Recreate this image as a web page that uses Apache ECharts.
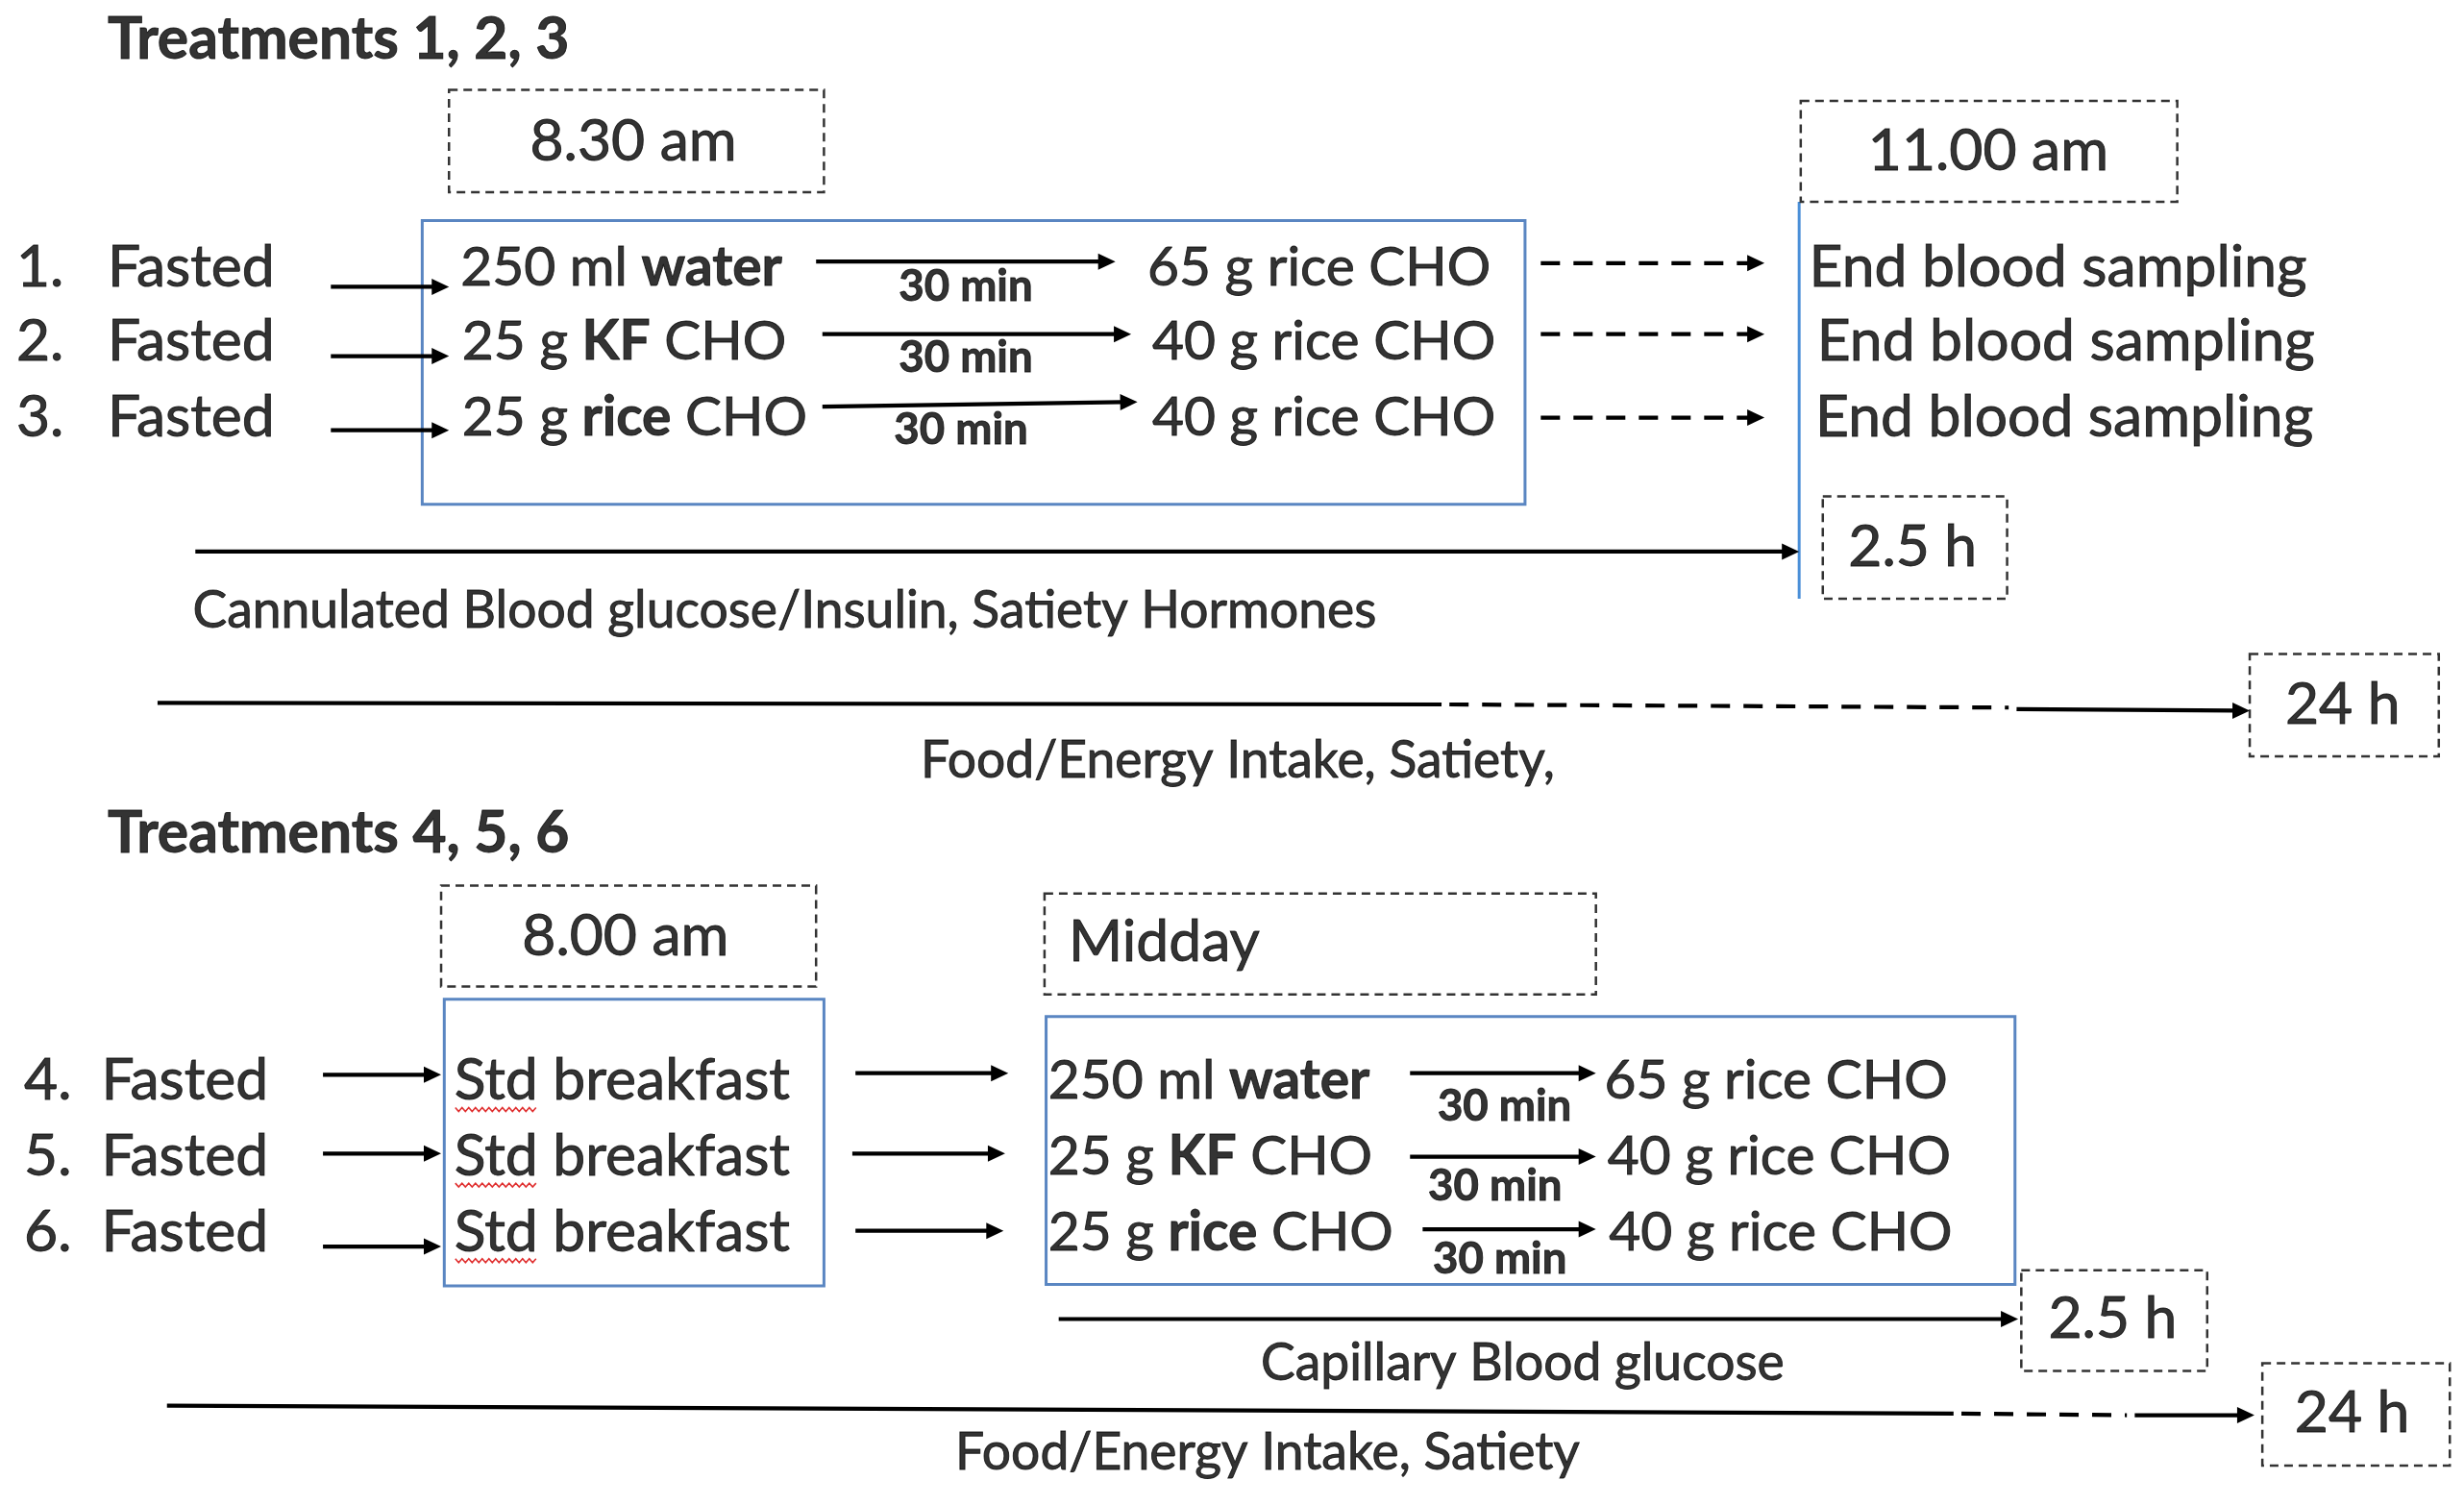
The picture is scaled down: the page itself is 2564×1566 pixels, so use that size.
<!DOCTYPE html>
<html><head><meta charset="utf-8">
<script src="https://cdn.jsdelivr.net/npm/echarts@6/dist/echarts.min.js"></script>
<style>html,body{margin:0;padding:0;background:#fff;}#c{width:2564px;height:1566px;}</style>
</head><body><div id="c"></div>
<script>
// ---- Diagram content (coordinates in reference layout units, 1564 x 955) ----
const headings = [[68, 25, 'Treatments 1, 2, 3'], [68, 529, 'Treatments 4, 5, 6']];
const treatmentNumbers = [[10,170,'1.'],[10,217,'2.'],[10,265,'3.'],[15,686,'4.'],[15,734,'5.'],[15,782,'6.']];
const startStates = [[68,170,'Fasted'],[68,217,'Fasted'],[68,265,'Fasted'],[64,686,'Fasted'],[64,734,'Fasted'],[64,782,'Fasted']];
const breakfasts = [[288,686,'Std breakfast'],[288,734,'Std breakfast'],[288,782,'Std breakfast']];
const preloads = [[292,170,'250 ml {b|water}'],[293,217,'25 g {b|KF} CHO'],[293,265,'25 g {b|rice} CHO'],
                  [665,686,'250 ml {b|water}'],[665,734,'25 g {b|KF} CHO'],[665,782,'25 g {b|rice} CHO']];
const meals = [[728,170,'65 g rice CHO'],[731,217,'40 g rice CHO'],[731,265,'40 g rice CHO'],
               [1018,686,'65 g rice CHO'],[1020,734,'40 g rice CHO'],[1021,782,'40 g rice CHO']];
const endpoints = [[1148,170,'End blood sampling'],[1153,217,'End blood sampling'],[1152,265,'End blood sampling'],[678,598,'Midday']];
const timeLabels = [[402,90,'8.30 am'],[1262,96,'11.00 am'],[1214,347,'2.5 h'],[1487,447,'24 h'],
                    [397,594,'8.00 am'],[1341,837,'2.5 h'],[1493,897,'24 h']];
const intervalLabels = [[613,182,'30 min'],[613,227,'30 min'],[610,273,'30 min'],[955,702,'30 min'],[949,753,'30 min'],[952,799,'30 min']];
const measureLabels = [[122,388,'Cannulated Blood glucose/Insulin, Satiety Hormones'],[584,483,'Food/Energy Intake, Satiety,'],
                       [800,865,'Capillary Blood glucose'],[606,922,'Food/Energy Intake, Satiety']];

const solidArrows = [[210,182,285,182],[210,226,285,226],[210,273,285,273],
  [518,166,708,166],[522,212,718,212],[522,258,722,255],
  [124,350,1142,350],[1280,450,1428,451],
  [205,682,280,682],[205,732,280,732],[205,791,280,791],
  [543,681,640,681],[541,732,638,732],[543,781,637,781],
  [895,681,1013,681],[895,734,1013,734],[903,780,1013,780],
  [672,837,1281,837],[1355,898,1431,898]];
const dashedArrows = [[978,167,1120,167],[978,212,1120,212],[978,265,1120,265]];
const solidLines = [[100,446,915,447],[106,892,1240,897]];
const dashedLines = [[920,447,1275,449],[1245,897,1350,898]];
const timeBoxes = [[285,57,523,122],[1143,64,1382,128],[1157,315,1274,380],[1428,415,1548,480],
                   [280,562,518,626],[663,567,1013,631],[1283,806,1401,870],[1436,865,1555,930]];
const phaseBoxes = [[268,140,968,320],[282,634,523,816],[664,645,1279,815]];
const phaseRules = [[1142,128,1142,380]];
const spellMarks = [[289,341,704],[289,341,752],[289,341,800]];

// ---- Rendering ----
const FONT = "Lato, 'Open Sans', sans-serif";
const K = 2564 / 1564;
const mctx = document.createElement('canvas').getContext('2d');
function fit(text, targetW, weight) {
  mctx.font = (weight || 'normal') + ' 100px ' + FONT;
  return Math.round(100 * targetW * K / mctx.measureText(text).width * 10) / 10;
}
const MAIN = fit('End blood sampling', 316);
const DOSE = fit('65 g rice CHO', 218);
const HEAD = fit('Treatments 1, 2, 3', 293, 'bold');
const CAP = fit('Cannulated Blood glucose/Insulin, Satiety Hormones', 752);
const SMALL = fit('30 min', 85, 'bold');

function segItem(color, width, dash, arrow) {
  return function (params, api) {
    const a = api.coord([api.value(0), api.value(1)]);
    const b = api.coord([api.value(2), api.value(3)]);
    const dx = b[0]-a[0], dy = b[1]-a[1];
    const len = Math.hypot(dx, dy) || 1;
    const ux = dx/len, uy = dy/len;
    const children = [];
    if (arrow) {
      const hl = 18, hw = 8.5;
      const base = [b[0]-ux*hl, b[1]-uy*hl];
      children.push({type:'line', shape:{x1:a[0], y1:a[1], x2:base[0]+ux*2, y2:base[1]+uy*2},
        style:{stroke:color, lineWidth:width, lineDash:dash}});
      children.push({type:'polygon', shape:{points:[b,[base[0]-uy*hw, base[1]+ux*hw],[base[0]+uy*hw, base[1]-ux*hw]]},
        style:{fill:color}});
    } else {
      children.push({type:'line', shape:{x1:a[0], y1:a[1], x2:b[0], y2:b[1]},
        style:{stroke:color, lineWidth:width, lineDash:dash}});
    }
    return {type:'group', children};
  };
}
function rectItem(color, width, dash) {
  return function (params, api) {
    const a = api.coord([api.value(0), api.value(1)]);
    const b = api.coord([api.value(2), api.value(3)]);
    return {type:'rect', shape:{x:Math.min(a[0],b[0]), y:Math.min(a[1],b[1]), width:Math.abs(b[0]-a[0]), height:Math.abs(b[1]-a[1])},
      style:{fill:'none', stroke:color, lineWidth:width, lineDash:dash}};
  };
}
function wavyItem(params, api) {
  const a = api.coord([api.value(0), api.value(2)]);
  const b = api.coord([api.value(1), api.value(2)]);
  const pts = [];
  let up = true;
  for (let x = a[0]; x <= b[0]; x += 3.5) { pts.push([x, a[1] + (up ? -2 : 2)]); up = !up; }
  return {type:'polyline', shape:{points:pts}, style:{stroke:'#E03030', lineWidth:1.6, fill:null}};
}
function custom(data, fn, enc) {
  return {type:'custom', data, renderItem: fn, encode: enc || {x:[0,2], y:[1,3]}, silent:true, z:2};
}
function texts(data, opts) {
  const ink = {color:'#000', textBorderColor:'#000', textBorderWidth:0.9};
  return {
    type:'scatter', data, symbolSize:1, itemStyle:{color:'rgba(0,0,0,0)'}, silent:true, z:5,
    encode:{x:0, y:1},
    label:Object.assign({show:true, formatter:p => p.value[2], fontFamily:FONT,
      rich:{b:Object.assign({fontWeight:'bold', fontFamily:FONT, fontSize:opts.fontSize}, ink)}}, ink, opts)
  };
}

const chart = echarts.init(document.getElementById('c'), null, {renderer:'canvas'});
chart.setOption({
  backgroundColor:'#ffffff',
  animation:false,
  grid:{left:0, right:0, top:0, bottom:0},
  xAxis:{type:'value', min:0, max:1564, show:false},
  yAxis:{type:'value', min:0, max:955, inverse:true, show:false},
  series:[
    custom(phaseBoxes, rectItem('#5A86C2', 3, null)),
    custom(phaseRules, segItem('#4A8FD8', 3, null, false)),
    custom(timeBoxes, rectItem('#333333', 2.5, [9,6])),
    custom(solidArrows, segItem('#000000', 4.2, null, true)),
    custom(dashedArrows, segItem('#000000', 4.2, [20,14], true)),
    custom(solidLines, segItem('#000000', 4.2, null, false)),
    custom(dashedLines, segItem('#000000', 4.2, [20,14], false)),
    custom(spellMarks, wavyItem, {x:[0,1], y:2}),
    texts(headings, {position:'right', distance:0, fontSize:HEAD, fontWeight:'bold'}),
    texts(treatmentNumbers, {position:'right', distance:0, fontSize:MAIN}),
    texts(startStates, {position:'right', distance:0, fontSize:MAIN}),
    texts(breakfasts, {position:'right', distance:0, fontSize:MAIN}),
    texts(preloads, {position:'right', distance:0, fontSize:DOSE}),
    texts(meals, {position:'right', distance:0, fontSize:DOSE}),
    texts(endpoints, {position:'right', distance:0, fontSize:MAIN}),
    texts(timeLabels, {position:'inside', fontSize:MAIN}),
    texts(intervalLabels, {position:'inside', fontSize:SMALL, fontWeight:'bold'}),
    texts(measureLabels, {position:'right', distance:0, fontSize:CAP})
  ]
});
</script></body></html>
